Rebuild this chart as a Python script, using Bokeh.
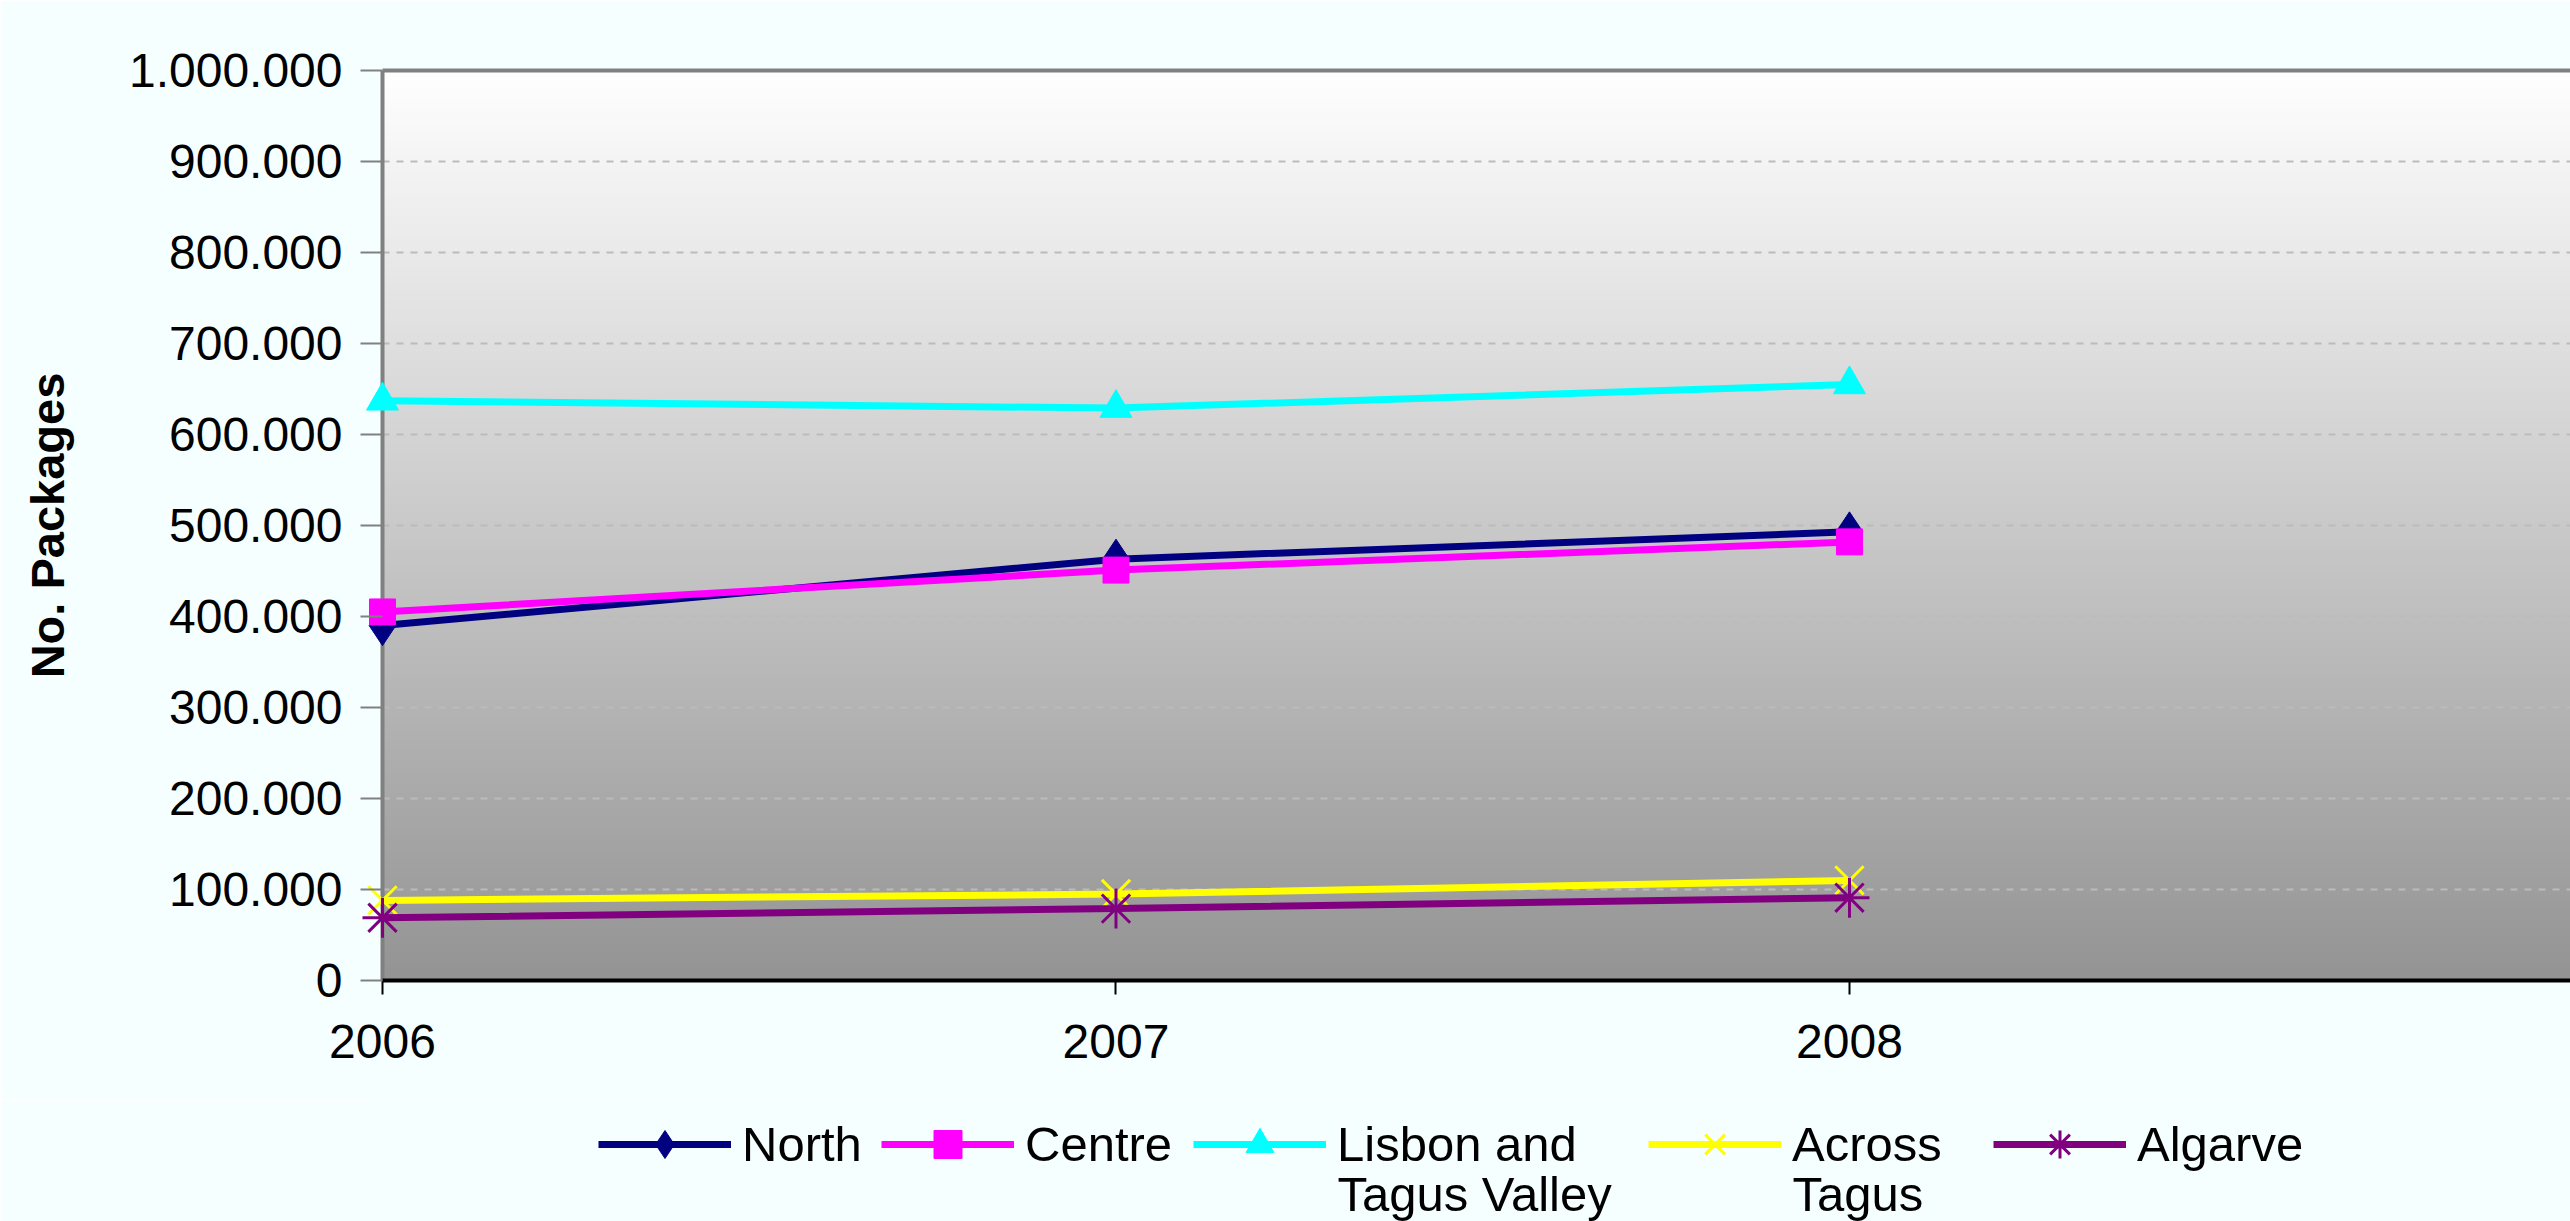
import numpy as np
from bokeh.plotting import figure
from bokeh.layouts import column
from bokeh.models import (Range1d, FixedTicker, Legend, LegendItem, LinearAxis, Span, Label)
from bokeh.embed import file_html
from bokeh.resources import INLINE

# ---- data ----
years = [2006, 2007, 2008]
north = [390000, 463000, 493000]
centre = [405000, 451000, 482000]
lisbon = [637000, 629000, 655000]
across = [88000, 95000, 110000]
algarve = [69000, 79000, 91000]

series_names = ["North", "Centre", "Lisbon and\nTagus Valley", "Across\nTagus", "Algarve"]
y_ticks = [0, 100000, 200000, 300000, 400000, 500000, 600000, 700000, 800000, 900000, 1000000]
y_tick_labels = ["0", "100.000", "200.000", "300.000", "400.000", "500.000",
                 "600.000", "700.000", "800.000", "900.000", "1.000.000"]
y_title = "No. Packages"
axis_x = 2006          # where the category axis starts
x_end = 2008.983
y_start, y_end = 0, 1000000

# ---- style / layout ----
FONT = "Liberation Sans"
BG = "#F5FFFF"
colors = ["#000080", "#FF00FF", "#00FFFF", "#FFFF00", "#800080"]
markers = ["diamond", "square", "triangle", "x", "asterisk"]
msizes = [40, 26, 32, 40, 40]
W, H_MAIN, H_LEG = 2570, 1100, 121
legend_x = [598, 881, 1193, 1648, 1993]   # screen x of each legend entry
GLYPH_W, STANDOFF = 133, 11

PAD_PX = 22                       # room left of the axis so markers are not clipped
FRAME_LEFT = 382 - PAD_PX
px_per_year = (W - 382) / (x_end - axis_x)
x_start = axis_x - PAD_PX / px_per_year

p = figure(width=W, height=H_MAIN, output_backend="svg", toolbar_location=None,
           x_range=Range1d(x_start, x_end), y_range=Range1d(y_start, y_end),
           min_border_left=FRAME_LEFT, min_border_right=0, min_border_top=70,
           min_border_bottom=H_MAIN - 980)
p.background_fill_color = BG
p.border_fill_color = BG
p.outline_line_color = None

# gradient background of the plot area
n = 256
grad = np.linspace(148, 255, n).astype(np.uint32)
img = np.zeros((n, 1), dtype=np.uint32)
view = img.view(dtype=np.uint8).reshape((n, 1, 4))
view[:, 0, 0] = grad
view[:, 0, 1] = grad
view[:, 0, 2] = grad
view[:, 0, 3] = 255
bg = p.image_rgba(image=[img], x=axis_x, y=y_start, dw=x_end - axis_x, dh=y_end - y_start)
bg.level = "image"

# dashed horizontal grid from the axis to the right
p.xgrid.visible = False
p.ygrid.visible = False
gl = y_ticks[1:-1]
grid = p.segment(x0=[axis_x] * len(gl), y0=gl, x1=[x_end] * len(gl), y1=gl,
                 line_color="#BBBBBB", line_width=2, line_dash="7 7")
grid.level = "underlay"

# left border of the plot area
p.add_layout(Span(location=axis_x, dimension="height", line_color="#808080",
                  line_width=4, level="underlay"))

# axes
p.xaxis.ticker = FixedTicker(ticks=years)
p.xaxis.bounds = (axis_x, x_end)
p.yaxis.ticker = FixedTicker(ticks=y_ticks)
p.yaxis.major_label_overrides = {t: l for t, l in zip(y_ticks, y_tick_labels)}
p.xaxis.major_label_overrides = {y: str(y) for y in years}
for ax in (p.xaxis, p.yaxis):
    ax.major_label_text_font = FONT
    ax.major_label_text_font_size = "48px"
    ax.major_label_text_color = "#000000"
    ax.minor_tick_line_color = None
    ax.major_tick_line_width = 2
p.yaxis.axis_line_color = None
p.yaxis.major_tick_in = PAD_PX
p.yaxis.major_tick_out = 0
p.yaxis.major_tick_line_color = "#808080"
p.yaxis.major_label_standoff = 18
p.xaxis.axis_line_color = "#000000"
p.xaxis.axis_line_width = 4
p.xaxis.major_tick_in = 0
p.xaxis.major_tick_out = 14
p.xaxis.major_tick_line_color = "#000000"
p.xaxis.major_label_standoff = 30
p.yaxis.axis_label = y_title
p.yaxis.axis_label_text_font = FONT
p.yaxis.axis_label_text_font_style = "bold"
p.yaxis.axis_label_text_font_size = "47px"
p.yaxis.axis_label_text_color = "#000000"
p.yaxis.axis_label_standoff = 52

top = LinearAxis(ticker=FixedTicker(ticks=[]), bounds=(axis_x, x_end),
                 axis_line_color="#808080", axis_line_width=4,
                 major_label_text_font_size="0px", major_tick_line_color=None,
                 minor_tick_line_color=None)
p.add_layout(top, "above")

# legend strip under the chart (frame aligned with the chart frame)
q = figure(width=W, height=H_LEG, output_backend="svg", toolbar_location=None,
           x_range=Range1d(0, 1), y_range=Range1d(0, 1),
           x_axis_type=None, y_axis_type=None,
           min_border_left=FRAME_LEFT, min_border_right=0, min_border_top=0,
           min_border_bottom=0)
q.background_fill_color = BG
q.border_fill_color = BG
q.outline_line_color = None

def style_scatter(fig, xs, ys, c, m, s):
    if m in ("x", "asterisk"):
        return fig.scatter(xs, ys, marker=m, size=s, line_color=c, line_width=3)
    return fig.scatter(xs, ys, marker=m, size=s, fill_color=c, line_color=c)

for name, vals, c, m, s, lx in zip(series_names, [north, centre, lisbon, across, algarve],
                                    colors, markers, msizes, legend_x):
    p.line(years, vals, line_color=c, line_width=7)
    style_scatter(p, years, vals, c, m, s)

    # legend entry: proxy renderers (off-screen point) carrying the same styling
    l1 = q.line(x=[-5, -4], y=[-5, -5], line_color=c, line_width=7)
    l2 = style_scatter(q, [-5], [-5], c, m, s)
    lines = name.split("\n")
    leg = Legend(items=[LegendItem(label=lines[0], renderers=[l1, l2])],
                 orientation="horizontal", location=(lx - FRAME_LEFT, 42),
                 glyph_width=GLYPH_W, glyph_height=70, label_standoff=STANDOFF,
                 padding=0, margin=0, border_line_color=None, background_fill_alpha=0,
                 label_text_font=FONT, label_text_font_size="49px",
                 label_text_color="#000000")
    q.add_layout(leg, "center")
    for extra in lines[1:]:
        q.add_layout(Label(x=lx - FRAME_LEFT + GLYPH_W + STANDOFF, y=28,
                           x_units="screen", y_units="screen",
                           text=extra, text_font=FONT, text_font_size="49px",
                           text_color="#000000", text_baseline="middle", text_align="left"))

layout = column(p, q, spacing=0)
open("out.html", "w").write(file_html(layout, INLINE))
